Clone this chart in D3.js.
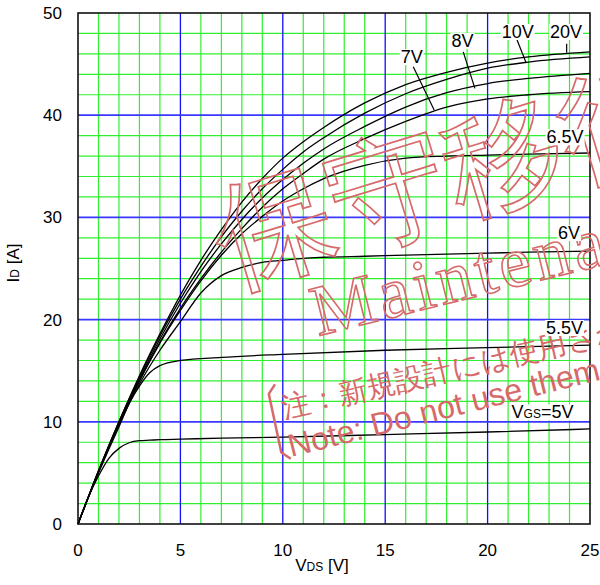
<!DOCTYPE html>
<html>
<head>
<meta charset="utf-8">
<script src="https://cdn.jsdelivr.net/npm/d3@7"></script>
<style>
  body { margin: 0; background: #fff; }
  svg text { font-family: "Liberation Sans", Arial, sans-serif; }
</style>
</head>
<body>
<div id="chart"></div>
<script>
// Drain current vs drain-source voltage, one curve per gate voltage
const vdsHigh = [0, 1, 2, 3, 4, 5, 6, 7, 8, 9, 10, 11, 12, 14, 16, 18, 20, 22, 25];
const id20V  = [0, 5.2, 10, 14.5, 18.6, 22.4, 25.8, 28.8, 31.5, 33.8, 35.8, 37.4, 38.8, 41.2, 43.0, 44.2, 45.1, 45.7, 46.2];
const id10V  = [0, 5.2, 10, 14.4, 18.4, 22.0, 25.2, 28.1, 30.6, 32.8, 34.7, 36.4, 37.8, 40.2, 42.1, 43.5, 44.6, 45.2, 45.7];
const id8V   = [0, 5.1, 9.9, 14.2, 18.1, 21.6, 24.7, 27.4, 29.8, 31.9, 33.7, 35.3, 36.7, 38.9, 40.8, 42.2, 43.1, 43.6, 44.1];
const id7V   = [0, 5.1, 9.8, 14.0, 17.8, 21.1, 24.0, 26.6, 28.9, 31.0, 32.8, 34.3, 35.7, 37.7, 39.4, 40.8, 41.6, 42.0, 42.3];
const id65V  = [0, 5.1, 9.8, 14.0, 17.7, 20.9, 23.8, 26.3, 28.4, 30.1, 31.6, 32.8, 33.8, 35.1, 35.8, 36.0, 36.1, 36.2, 36.3];
const id6V   = [0, 5.1, 9.7, 13.7, 17.0, 19.8, 22.6, 24.3, 25.1, 25.6, 25.8, 26.0, 26.1, 26.2, 26.3, 26.4, 26.5, 26.6, 26.7];

const vdsLow = [0, 0.5, 1, 1.5, 2, 2.5, 3, 3.5, 4, 5, 7, 10, 15, 20, 25];
const id55V  = [0, 2.6, 5.0, 7.3, 9.5, 11.8, 13.5, 14.8, 15.5, 16.0, 16.3, 16.6, 17.0, 17.25, 17.5];
const id5V   = [0, 2.6, 4.7, 6.4, 7.4, 7.95, 8.15, 8.2, 8.25, 8.3, 8.4, 8.5, 8.75, 9.0, 9.3];

const xTicks = [0, 5, 10, 15, 20, 25];
const yTicks = [0, 10, 20, 30, 40, 50];

// curve labels: text, subscript, where the text starts (V, A), optional leader line
const curveLabels = [
  { main: "20V",  at: [23.05, 47.55], lead: [[23.86, 47.0], [23.86, 46.1]] },
  { main: "10V",  at: [20.69, 47.55], lead: [[21.42, 47.46], [21.88, 45.14]] },
  { main: "8V",   at: [18.24, 46.67], lead: [[18.81, 46.2], [19.38, 42.63]] },
  { main: "7V",   at: [15.76, 45.1],  lead: [[16.37, 44.75], [17.39, 40.51]] },
  { main: "6.5V", at: [22.88, 37.25] },
  { main: "6V",   at: [23.44, 27.89] },
  { main: "5.5V", at: [22.85, 18.59] },
  { main: "V", sub: "GS", rest: "=5V", at: [21.17, 10.34] }
];

function draw(container) {
  const width = 600;
  const height = 585;
  const margin = ({top: 13, right: 10, bottom: 61, left: 78});

  const x = d3.scaleLinear().domain([0, 25]).range([margin.left, width - margin.right]);
  const y = d3.scaleLinear().domain([0, 50]).range([height - margin.bottom, margin.top]);

  const svg = d3.select(container).append("svg")
    .attr("width", width)
    .attr("height", height);

  /* **************************************
   * Grid
   **************************************** */
  const grid = svg.append("g");
  const minorX = d3.range(1, 25).filter(d => d % 5 !== 0);
  const minorY = d3.range(2, 50, 2).filter(d => d % 10 !== 0);

  grid.selectAll(".mx").data(minorX).join("line")
    .attr("x1", d => x(d)).attr("x2", d => x(d))
    .attr("y1", y(0)).attr("y2", y(50))
    .attr("stroke", "#2ef02e").attr("stroke-width", 1.2);
  grid.selectAll(".my").data(minorY).join("line")
    .attr("y1", d => y(d)).attr("y2", d => y(d))
    .attr("x1", x(0)).attr("x2", x(25))
    .attr("stroke", "#2ef02e").attr("stroke-width", 1.2);

  grid.selectAll(".bx").data([5, 10, 15, 20]).join("line")
    .attr("x1", d => x(d)).attr("x2", d => x(d))
    .attr("y1", y(0)).attr("y2", y(50))
    .attr("stroke", "#1010ff").attr("stroke-width", 1.3);
  grid.selectAll(".by").data([10, 20, 30, 40]).join("line")
    .attr("y1", d => y(d)).attr("y2", d => y(d))
    .attr("x1", x(0)).attr("x2", x(25))
    .attr("stroke", "#3838ff").attr("stroke-width", 1.8);

  /* **************************************
   * Curves
   **************************************** */
  const line = d3.line()
    .x(d => x(d[0]))
    .y(d => y(d[1]))
    .curve(d3.curveMonotoneX);

  const series = [
    [vdsHigh, id20V], [vdsHigh, id10V], [vdsHigh, id8V], [vdsHigh, id7V],
    [vdsHigh, id65V], [vdsHigh, id6V], [vdsLow, id55V], [vdsLow, id5V]
  ];
  svg.append("g").selectAll("path").data(series).join("path")
    .attr("d", s => line(s[0].map((v, i) => [v, s[1][i]])))
    .attr("fill", "none")
    .attr("stroke", "#000")
    .attr("stroke-width", 1.3);

  // frame
  svg.append("rect")
    .attr("x", x(0)).attr("y", y(50))
    .attr("width", x(25) - x(0)).attr("height", y(0) - y(50))
    .attr("fill", "none").attr("stroke", "#111").attr("stroke-width", 1.6);

  /* **************************************
   * Axes labels
   **************************************** */
  svg.append("g").selectAll("text").data(xTicks).join("text")
    .attr("x", d => x(d)).attr("y", 556)
    .attr("text-anchor", "middle")
    .attr("font-size", 17)
    .text(d => d);

  svg.append("g").selectAll("text").data(yTicks).join("text")
    .attr("x", 62).attr("y", d => y(d) + 6)
    .attr("text-anchor", "end")
    .attr("font-size", 17)
    .text(d => d);

  const xt = svg.append("text").attr("x", 322).attr("y", 571)
    .attr("text-anchor", "middle").attr("font-size", 17);
  xt.append("tspan").text("V");
  xt.append("tspan").attr("font-size", 12).text("DS");
  xt.append("tspan").text(" [V]");

  const yt = svg.append("text")
    .attr("transform", "translate(19,263) rotate(-90)")
    .attr("text-anchor", "middle").attr("font-size", 17);
  yt.append("tspan").text("I");
  yt.append("tspan").attr("font-size", 12).text("D");
  yt.append("tspan").text(" [A]");

  /* **************************************
   * Watermark
   **************************************** */
  const wm = svg.append("g").attr("pointer-events", "none");
  const red = "#d66a6a";

  wm.append("text")
    .attr("transform", "translate(229,284) rotate(-17)")
    .attr("font-family", "'Noto Sans CJK JP'")
    .attr("font-size", 120)
    .attr("fill", "none").attr("stroke", red).attr("stroke-width", 1.7)
    .text("保守移行品");

  wm.append("text")
    .attr("transform", "translate(318,336) rotate(-14)")
    .style("font-family", "'Liberation Serif', serif")
    .attr("font-size", 72)
    .attr("letter-spacing", 4)
    .attr("fill", "none").attr("stroke", red).attr("stroke-width", 1.6)
    .text("Maintenance");

  wm.append("text")
    .attr("transform", "translate(284,418) rotate(-13)")
    .attr("font-family", "'Noto Sans CJK JP'")
    .attr("font-size", 29)
    .attr("fill", red)
    .text("注：新規設計には使用されないでください");

  wm.append("text")
    .attr("transform", "translate(291,457) rotate(-14)")
    .attr("font-size", 32)
    .attr("fill", red)
    .text("Note: Do not use them for new design");

  wm.append("path")
    .attr("transform", "translate(268,390) rotate(-12)")
    .attr("d", "M8,-4 L0,4 L0,64 L8,72")
    .attr("fill", "none").attr("stroke", red).attr("stroke-width", 2.5);

  /* **************************************
   * Curve labels
   **************************************** */
  const lab = svg.append("g");
  for (const c of curveLabels) {
    if (c.lead) {
      lab.append("line")
        .attr("x1", x(c.lead[0][0])).attr("y1", y(c.lead[0][1]))
        .attr("x2", x(c.lead[1][0])).attr("y2", y(c.lead[1][1]))
        .attr("stroke", "#000").attr("stroke-width", 1.2);
    }
    const bg = lab.append("rect").attr("fill", "#fff");
    const t = lab.append("text")
      .attr("x", x(c.at[0])).attr("y", y(c.at[1]))
      .attr("font-size", 18);
    t.append("tspan").text(c.main);
    if (c.sub) {
      t.append("tspan").attr("font-size", 12).text(c.sub);
      t.append("tspan").text(c.rest);
    }
    const b = t.node().getBBox();
    bg.attr("x", b.x - 1).attr("y", b.y + 2)
      .attr("width", b.width + 2).attr("height", b.height - 4);
  }

  return svg.node();
}

draw("#chart");
</script>
</body>
</html>
